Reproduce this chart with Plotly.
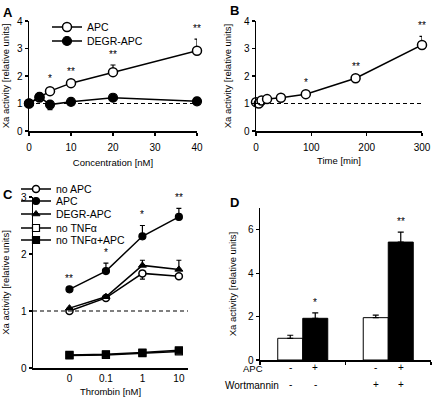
import plotly.graph_objects as go

W, H = 433, 400

# ---------------- data ----------------
# Panel A
a_conc = [0, 2.5, 5, 10, 20, 40]
a_apc = [1.0, 1.22, 1.45, 1.74, 2.14, 2.92]
a_apc_err = [0, 0, 0.07, 0.06, 0.26, 0.42]
a_apc_sig = ["", "", "*", "**", "**", "**"]
a_degr = [1.0, 1.24, 0.96, 1.06, 1.21, 1.08]
a_degr_err_minus = [0, 0, 0.18, 0, 0, 0]

# Panel B
b_time = [0, 5, 10, 20, 45, 90, 180, 300]
b_apc = [1.05, 1.0, 1.11, 1.16, 1.21, 1.34, 1.92, 3.13]
b_err = [0, 0, 0, 0, 0, 0.05, 0.05, 0.31]
b_sig = ["", "", "", "", "", "*", "**", "**"]

# Panel C
c_thrombin = ["0", "0.1", "1", "10"]
c_noapc = [1.0, 1.23, 1.66, 1.61]
c_noapc_err_minus = [0, 0, 0.1, 0]
c_apc = [1.38, 1.70, 2.31, 2.65]
c_apc_err = [0, 0.14, 0.19, 0.15]
c_apc_sig = ["**", "*", "*", "**"]
c_degr = [1.05, 1.25, 1.80, 1.73]
c_degr_err = [0, 0, 0.09, 0.16]
c_notnf = [0.22, 0.23, 0.26, 0.29]
c_notnf_apc = [0.23, 0.24, 0.27, 0.31]

# Panel D
d_groups = [0, 1]            # Wortmannin -, +
d_no_apc = [1.0, 1.95]
d_no_apc_err = [0.14, 0.12]
d_apc = [1.92, 5.43]
d_apc_err = [0.25, 0.46]
d_apc_sig = ["*", "**"]
d_apc_signs = ["-", "+", "-", "+"]
d_wort_signs = ["-", "-", "+", "+"]

FONT = "Liberation Sans, Arial, sans-serif"
BLACK = "#000000"
WHITE = "#ffffff"

def px_x(p):
    return p / W

def px_y(p):
    return 1 - p / H

fig = go.Figure()

def err(plus, minus=None, w=2.5):
    if minus is None:
        minus = [0] * len(plus)
    return dict(type="data", array=plus, symmetric=False, arrayminus=minus,
                color=BLACK, thickness=1.2, width=w, visible=True)

zeros = lambda n: [0] * n

# ---- Panel A ----
fig.add_trace(go.Scatter(x=a_conc, y=a_apc, mode="lines+markers", name="APC",
                         line=dict(color=BLACK, width=1.5),
                         marker=dict(symbol="circle", size=9, color=WHITE, line=dict(color=BLACK, width=1.5)),
                         error_y=err(a_apc_err), xaxis="x", yaxis="y", legend="legend8", cliponaxis=False))
fig.add_trace(go.Scatter(x=a_conc, y=a_degr, mode="lines+markers", name="DEGR-APC",
                         line=dict(color=BLACK, width=1.5),
                         marker=dict(symbol="circle", size=9, color=BLACK, line=dict(color=BLACK, width=1.2)),
                         error_y=err(zeros(len(a_degr)), a_degr_err_minus),
                         xaxis="x", yaxis="y", legend="legend2", cliponaxis=False))

# ---- Panel B ----
fig.add_trace(go.Scatter(x=b_time, y=b_apc, mode="lines+markers", name="APC", showlegend=False,
                         line=dict(color=BLACK, width=1.5),
                         marker=dict(symbol="circle", size=9, color=WHITE, line=dict(color=BLACK, width=1.5)),
                         error_y=err(b_err), xaxis="x2", yaxis="y2", cliponaxis=False))

# ---- Panel C ----
fig.add_trace(go.Scatter(x=c_thrombin, y=c_notnf, mode="lines+markers", name="no TNFα",
                         line=dict(color=BLACK, width=1.5),
                         marker=dict(symbol="square", size=7, color=WHITE, line=dict(color=BLACK, width=1.2)),
                         xaxis="x3", yaxis="y3", legend="legend6", cliponaxis=False))
fig.add_trace(go.Scatter(x=c_thrombin, y=c_notnf_apc, mode="lines+markers", name="no TNFα+APC",
                         line=dict(color=BLACK, width=1.5),
                         marker=dict(symbol="square", size=7, color=BLACK, line=dict(color=BLACK, width=1.2)),
                         xaxis="x3", yaxis="y3", legend="legend7", cliponaxis=False))
fig.add_trace(go.Scatter(x=c_thrombin, y=c_noapc, mode="lines+markers", name="no APC",
                         line=dict(color=BLACK, width=1.5),
                         marker=dict(symbol="circle", size=7, color=WHITE, line=dict(color=BLACK, width=1.5)),
                         error_y=err(zeros(4), c_noapc_err_minus),
                         xaxis="x3", yaxis="y3", legend="legend3", cliponaxis=False))
fig.add_trace(go.Scatter(x=c_thrombin, y=c_degr, mode="lines+markers", name="DEGR-APC",
                         line=dict(color=BLACK, width=1.5),
                         marker=dict(symbol="triangle-up", size=7, color=BLACK, line=dict(color=BLACK, width=1)),
                         error_y=err(c_degr_err), xaxis="x3", yaxis="y3", legend="legend5", cliponaxis=False))
fig.add_trace(go.Scatter(x=c_thrombin, y=c_apc, mode="lines+markers", name="APC",
                         line=dict(color=BLACK, width=1.5),
                         marker=dict(symbol="circle", size=7, color=BLACK, line=dict(color=BLACK, width=1.2)),
                         error_y=err(c_apc_err), xaxis="x3", yaxis="y3", legend="legend4", cliponaxis=False))

# ---- Panel D ----
fig.add_trace(go.Bar(x=d_groups, y=d_no_apc, name="no APC", showlegend=False,
                     marker=dict(color=WHITE, line=dict(color=BLACK, width=1)),
                     error_y=dict(type="data", array=d_no_apc_err, symmetric=False, arrayminus=[0, 0],
                                  color=BLACK, thickness=1.2, width=3), xaxis="x4", yaxis="y4"))
fig.add_trace(go.Bar(x=d_groups, y=d_apc, name="APC", showlegend=False,
                     marker=dict(color=BLACK, line=dict(color=BLACK, width=1)),
                     error_y=dict(type="data", array=d_apc_err, symmetric=False, arrayminus=[0, 0],
                                  color=BLACK, thickness=1.2, width=3), xaxis="x4", yaxis="y4"))

# ---------------- annotations ----------------
ann = []
STARFONT = dict(size=10, color=BLACK, family=FONT)

def stars(xs, ys, errs, sigs, xref, yref, shift=3):
    for x, y, e, s in zip(xs, ys, errs, sigs):
        if s:
            ann.append(dict(x=x, y=y + e, text=s, xref=xref, yref=yref, showarrow=False,
                            yanchor="bottom", yshift=shift, font=STARFONT))

stars(a_conc, a_apc, a_apc_err, a_apc_sig, "x", "y")
stars(b_time, b_apc, b_err, b_sig, "x2", "y2")
# category axis: annotate by category index
stars(list(range(len(c_thrombin))), c_apc, c_apc_err, c_apc_sig, "x3", "y3")

bargap = 0.415
off = (1 - bargap) / 4
stars([g + off for g in d_groups], d_apc, d_apc_err, d_apc_sig, "x4", "y4")

bar_centers = []
for g in d_groups:
    bar_centers += [g - off, g + off]
SIGNFONT = dict(size=10, color=BLACK, family=FONT)
for xc, s in zip(bar_centers, d_apc_signs):
    ann.append(dict(x=xc, y=px_y(375), text=s, xref="x4", yref="paper", showarrow=False, font=SIGNFONT))
for xc, s in zip(bar_centers, d_wort_signs):
    ann.append(dict(x=xc, y=px_y(392), text=s, xref="x4", yref="paper", showarrow=False, font=SIGNFONT))
ann.append(dict(x=px_x(264), y=px_y(375), text="APC", xref="paper", yref="paper", showarrow=False,
                xanchor="right", borderpad=0, font=dict(size=9.5, color=BLACK, family=FONT)))
ann.append(dict(x=px_x(280), y=px_y(392), text="Wortmannin", xref="paper", yref="paper", showarrow=False,
                xanchor="right", borderpad=0, font=dict(size=10, color=BLACK, family=FONT)))

for letter, x, y in [("A", 1, 13), ("B", 228, 11), ("C", 1, 194), ("D", 228, 202)]:
    ann.append(dict(x=px_x(x), y=px_y(y), text="<b>%s</b>" % letter, xref="paper", yref="paper",
                    showarrow=False, xanchor="left", yanchor="middle",
                    font=dict(size=13, color=BLACK, family=FONT)))

# dashed reference lines at y = 1
shapes = []
for xr, yr in [("x", "y"), ("x2", "y2"), ("x3", "y3")]:
    shapes.append(dict(type="line", xref=xr + " domain", yref=yr, x0=0, x1=1, y0=1, y1=1,
                       line=dict(color=BLACK, width=1.2, dash="4px,3px")))

# ---------------- axes ----------------
tickfont = dict(size=10, color=BLACK, family=FONT)
titlefont = dict(size=9.5, color=BLACK, family=FONT)
ytitle = "Xa activity [relative units]"

def ax(domain, anchor, **kw):
    d = dict(domain=domain, anchor=anchor, showline=True, linecolor=BLACK, linewidth=1.5,
             ticks="outside", ticklen=3, tickwidth=1.2, tickcolor=BLACK, showgrid=False,
             zeroline=False, tickfont=tickfont, fixedrange=True, automargin=False)
    d.update(kw)
    return d

layout = dict(
    template="none", width=W, height=H, autosize=False,
    margin=dict(l=0, r=0, t=0, b=0, pad=0),
    paper_bgcolor=WHITE, plot_bgcolor=WHITE, font=dict(family=FONT, color=BLACK),
    barmode="group", bargap=bargap, bargroupgap=0, annotations=ann, shapes=shapes,
    xaxis=ax([px_x(29), px_x(197)], "y", range=[0, 40], tickvals=[0, 10, 20, 30, 40], ticklabelstandoff=3,
             title=dict(text="Concentration [nM]", font=titlefont, standoff=8)),
    yaxis=ax([px_y(131), px_y(21)], "x", range=[0, 4], tickvals=[0, 1, 2, 3, 4],
             title=dict(text=ytitle, font=titlefont, standoff=5)),
    xaxis2=ax([px_x(256), px_x(422)], "y2", range=[0, 300], tickvals=[0, 100, 200, 300], ticklabelstandoff=3,
              title=dict(text="Time [min]", font=titlefont, standoff=6)),
    yaxis2=ax([px_y(131), px_y(21)], "x2", range=[0, 4], tickvals=[0, 1, 2, 3, 4],
              title=dict(text=ytitle, font=titlefont, standoff=10)),
    xaxis3=ax([px_x(33), px_x(188)], "y3", type="category", range=[-1, 3.25], ticks="",
              title=dict(text="Thrombin [nM]", font=titlefont, standoff=6)),
    yaxis3=ax([px_y(368), px_y(197)], "x3", range=[0, 3], tickvals=[0, 1, 2, 3],
              title=dict(text=ytitle, font=titlefont, standoff=16)),
    xaxis4=ax([px_x(260), px_x(431)], "y4", range=[-0.5, 1.5], tickvals=[-0.5, 0.5, 1.5], showticklabels=False),
    yaxis4=ax([px_y(360), px_y(208)], "x4", range=[0, 7], tickvals=[0, 2, 4, 6],
              title=dict(text=ytitle, font=titlefont, standoff=9)),
)

legfont = dict(size=10.5, color=BLACK, family=FONT)
def leg(x, y):
    return dict(x=px_x(x), y=px_y(y), xanchor="left", yanchor="middle", bgcolor="rgba(0,0,0,0)",
                borderwidth=0, font=legfont, itemwidth=30, itemclick=False, itemdoubleclick=False)

layout["legend8"] = leg(47, 27)
layout["legend2"] = leg(47, 41)
layout["legend3"] = leg(16, 189)
layout["legend4"] = leg(16, 201)
layout["legend5"] = leg(16, 214)
layout["legend6"] = leg(16, 228)
layout["legend7"] = leg(16, 240)

fig.update_layout(**layout)
fig.write_html("out.html", config={"displayModeBar": False, "staticPlot": True},
               post_script="document.body.style.margin='0px';document.body.style.padding='0px';")
